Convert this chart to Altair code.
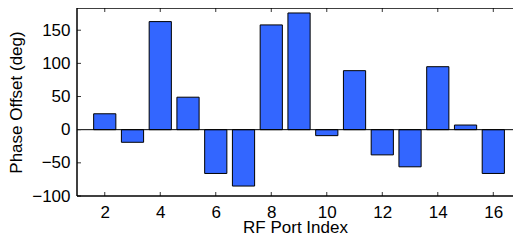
import altair as alt
import pandas as pd

ports = [2, 3, 4, 5, 6, 7, 8, 9, 10, 11, 12, 13, 14, 15, 16]
phase = [24, -19, 163, 49, -66, -85, 158, 176, -9, 89, -38, -56, 95, 7, -66]
x_ticks = [2, 4, 6, 8, 10, 12, 14, 16]
y_ticks = [-100, -50, 0, 50, 100, 150]
x_domain = [1, 16.71]
y_domain = [-100, 183.5]

W, H = 436, 188
FONT = "Liberation Sans"

df = pd.DataFrame({"port": ports, "phase": phase})
xs = alt.Scale(domain=x_domain, nice=False, zero=False)
ys = alt.Scale(domain=y_domain, nice=False, zero=False)

xaxis = alt.Axis(title="RF Port Index", values=x_ticks, tickCount=8,
                 labelPadding=8, titleBaseline="alphabetic", titleY=36,
                 labelOverlap=False)
yaxis = alt.Axis(title="Phase Offset (deg)", values=y_ticks, tickCount=6,
                 labelPadding=7, titlePadding=6, labelOverlap=False)

bars = alt.Chart(df).transform_calculate(
    x0="datum.port - 0.4", x1="datum.port + 0.4"
).mark_bar(color="#3366FF", stroke="black", strokeWidth=1).encode(
    x=alt.X("x0:Q", scale=xs, axis=xaxis),
    x2="x1:Q",
    y=alt.Y("phase:Q", scale=ys, axis=yaxis),
    y2=alt.datum(0),
)

zero = alt.Chart(pd.DataFrame({"z": [0]})).mark_rule(color="black", strokeWidth=1).encode(
    y=alt.Y("z:Q", scale=ys, axis=yaxis)
)

ydf = pd.DataFrame({"v": y_ticks})
xdf = pd.DataFrame({"v": x_ticks})
left_t = alt.Chart(ydf).mark_rule(color="#333333").encode(
    y=alt.Y("v:Q", scale=ys, axis=yaxis), x=alt.value(0), x2=alt.value(4))
top_t = alt.Chart(xdf).mark_rule(color="#333333").encode(
    x=alt.X("v:Q", scale=xs, axis=xaxis), y=alt.value(0), y2=alt.value(4))
bot_t = alt.Chart(xdf).mark_rule(color="#333333").encode(
    x=alt.X("v:Q", scale=xs, axis=xaxis), y=alt.value(H - 4), y2=alt.value(H))

one = pd.DataFrame({"k": [0]})
frame_left = alt.Chart(one).mark_rule(color="black", strokeWidth=1.5).encode(
    x=alt.value(0), y=alt.value(0), y2=alt.value(H))
frame_top = alt.Chart(one).mark_rule(color="black", strokeWidth=1.5).encode(
    y=alt.value(0), x=alt.value(0), x2=alt.value(W))
frame_bot = alt.Chart(one).mark_rule(color="black", strokeWidth=1.5).encode(
    y=alt.value(H), x=alt.value(0), x2=alt.value(W))

chart = alt.layer(
    bars, zero, left_t, top_t, bot_t, frame_left, frame_top, frame_bot
).properties(
    width=W, height=H, autosize="none",
    padding={"left": 69, "top": 0, "right": 0, "bottom": 39},
).configure_view(
    strokeWidth=0
).configure_axis(
    ticks=False, domain=False, grid=False, labelFontSize=17, titleFontSize=17,
    labelColor="black", titleColor="black", titleFontWeight="normal",
    labelFont=FONT, titleFont=FONT
)

chart.save("out.html", embed_options={"renderer": "svg", "actions": False})
